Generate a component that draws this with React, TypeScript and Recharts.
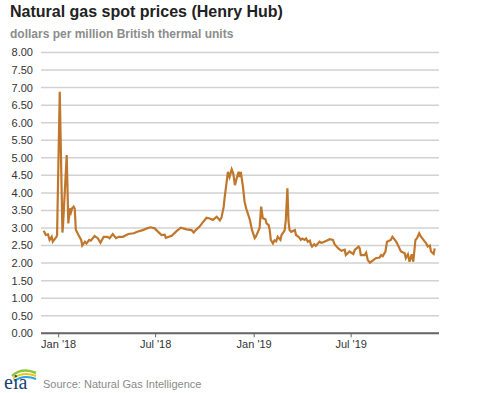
import { LineChart, Line, XAxis, YAxis, CartesianGrid } from 'recharts';

// Henry Hub daily spot price
const dates = [
  '2017-12-04', '2017-12-08', '2017-12-12', '2017-12-15', '2017-12-19', '2017-12-21', '2017-12-26', '2017-12-28',
  '2017-12-29', '2018-01-03', '2018-01-08', '2018-01-09', '2018-01-16', '2018-01-19', '2018-01-22', '2018-01-24',
  '2018-01-26', '2018-01-29', '2018-01-31', '2018-02-02', '2018-02-07', '2018-02-12', '2018-02-14', '2018-02-19',
  '2018-02-22', '2018-02-27', '2018-03-02', '2018-03-09', '2018-03-15', '2018-03-20', '2018-03-26', '2018-04-02',
  '2018-04-06', '2018-04-12', '2018-04-18', '2018-04-23', '2018-05-01', '2018-05-11', '2018-05-21', '2018-05-29',
  '2018-06-07', '2018-06-15', '2018-06-22', '2018-06-29', '2018-07-12', '2018-07-18', '2018-07-20', '2018-07-31',
  '2018-08-09', '2018-08-17', '2018-08-28', '2018-09-06', '2018-09-10', '2018-09-14', '2018-09-21', '2018-09-28',
  '2018-10-04', '2018-10-10', '2018-10-16', '2018-10-23', '2018-10-29', '2018-11-01', '2018-11-05', '2018-11-07',
  '2018-11-13', '2018-11-16', '2018-11-20', '2018-11-23', '2018-11-26', '2018-11-29', '2018-12-03', '2018-12-05',
  '2018-12-07', '2018-12-11', '2018-12-14', '2018-12-17', '2018-12-24', '2018-12-28', '2019-01-02', '2019-01-04',
  '2019-01-08', '2019-01-11', '2019-01-14', '2019-01-17', '2019-01-22', '2019-01-24', '2019-01-28', '2019-01-30',
  '2019-02-01', '2019-02-05', '2019-02-08', '2019-02-11', '2019-02-14', '2019-02-19', '2019-02-21', '2019-02-25',
  '2019-02-27', '2019-03-01', '2019-03-04', '2019-03-06', '2019-03-08', '2019-03-11', '2019-03-18', '2019-03-20',
  '2019-03-22', '2019-03-26', '2019-03-29', '2019-04-01', '2019-04-05', '2019-04-08', '2019-04-11', '2019-04-15',
  '2019-04-17', '2019-04-19', '2019-04-23', '2019-04-26', '2019-04-30', '2019-05-03', '2019-05-06', '2019-05-09',
  '2019-05-16', '2019-05-22', '2019-05-28', '2019-05-31', '2019-06-07', '2019-06-13', '2019-06-19', '2019-06-21',
  '2019-06-28', '2019-07-05', '2019-07-08', '2019-07-15', '2019-07-17', '2019-07-19', '2019-07-26', '2019-07-29',
  '2019-08-01', '2019-08-05', '2019-08-12', '2019-08-16', '2019-08-23', '2019-08-26', '2019-08-29', '2019-09-03',
  '2019-09-06', '2019-09-13', '2019-09-16', '2019-09-23', '2019-09-26', '2019-10-02', '2019-10-09', '2019-10-11',
  '2019-10-15', '2019-10-18', '2019-10-22', '2019-10-25', '2019-10-29', '2019-11-01', '2019-11-05', '2019-11-08',
  '2019-11-13', '2019-11-18', '2019-11-21', '2019-11-25', '2019-11-27', '2019-12-02', '2019-12-04',
];

const prices = [
  2.92, 2.80, 2.82, 2.66, 2.75, 2.61, 2.71, 2.75,
  2.80, 6.88, 2.87, 3.04, 5.08, 3.13, 3.56, 3.45,
  3.56, 3.61, 3.55, 2.95, 2.80, 2.66, 2.50, 2.61,
  2.56, 2.66, 2.64, 2.77, 2.71, 2.58, 2.75, 2.75,
  2.71, 2.83, 2.71, 2.75, 2.75, 2.83, 2.85, 2.90,
  2.94, 2.99, 3.02, 2.99, 2.80, 2.81, 2.72, 2.78,
  2.91, 3.01, 2.96, 2.94, 2.87, 2.94, 3.04, 3.18,
  3.29, 3.27, 3.23, 3.32, 3.22, 3.30, 3.60, 3.89,
  4.60, 4.45, 4.67, 4.55, 4.22, 4.40, 4.60, 4.45,
  4.60, 4.18, 3.75, 3.56, 3.23, 2.94, 2.71, 2.75,
  2.89, 3.00, 3.61, 3.28, 3.25, 3.13, 3.08, 2.94,
  2.66, 2.56, 2.65, 2.62, 2.75, 2.66, 2.80, 2.89,
  2.94, 3.23, 4.13, 3.20, 2.94, 2.89, 2.94, 2.80,
  2.78, 2.73, 2.66, 2.70, 2.66, 2.70, 2.61, 2.64,
  2.52, 2.47, 2.54, 2.49, 2.56, 2.61, 2.58, 2.59,
  2.64, 2.68, 2.66, 2.54, 2.42, 2.35, 2.38, 2.23,
  2.33, 2.26, 2.38, 2.47, 2.42, 2.23, 2.23, 2.30,
  2.09, 2.01, 2.09, 2.14, 2.16, 2.23, 2.20, 2.33,
  2.61, 2.66, 2.75, 2.61, 2.52, 2.33, 2.28, 2.14,
  2.25, 2.04, 2.25, 2.04, 2.66, 2.71, 2.85, 2.76,
  2.66, 2.56, 2.47, 2.50, 2.33, 2.26, 2.42,
];

const xTickDates = ['2018-01-01', '2018-07-01', '2019-01-01', '2019-07-01'];
const xTickLabels = ["Jan '18", "Jul '18", "Jan '19", "Jul '19"];
const yTicks = [0, 0.5, 1, 1.5, 2, 2.5, 3, 3.5, 4, 4.5, 5, 5.5, 6, 6.5, 7, 7.5, 8];

const data = dates.map((d, i) => ({ t: Date.parse(d), price: prices[i] }));
const xTicks = xTickDates.map(d => Date.parse(d));
const xDomain = [Date.parse('2017-11-29'), Date.parse('2019-12-12')];

const FONT = '"Liberation Sans", Arial, sans-serif';

const fmtX = (v: number) => {
  const i = xTicks.indexOf(v);
  return i >= 0 ? xTickLabels[i] : '';
};

function EiaLogo() {
  return (
    <svg width={40} height={28} style={{ position: 'absolute', left: 2, top: 364 }}>
      <path d="M10 12 Q20 3 34 9" stroke="#8cc63f" strokeWidth={2.5} fill="none" />
      <path d="M11 14.5 Q21 7 34 12" stroke="#f2c511" strokeWidth={2} fill="none" />
      <path d="M12 17 Q22 10 34 15" stroke="#2aa5dd" strokeWidth={2} fill="none" />
      <text x={2} y={25} fontFamily='"Liberation Serif", "DejaVu Serif", serif' fontSize={20} fill="#1c3f72">
        eia
      </text>
    </svg>
  );
}

export default function App() {
  return (
    <div style={{ position: 'absolute', left: 0, top: 0, width: 477, height: 393, background: '#fff', fontFamily: FONT, overflow: 'hidden' }}>
      <div style={{ position: 'absolute', left: 10, top: 3, fontSize: 16, fontWeight: 'bold', color: '#222' }}>
        Natural gas spot prices (Henry Hub)
      </div>
      <div style={{ position: 'absolute', left: 10, top: 27, fontSize: 12, fontWeight: 'bold', color: '#8c8c8c' }}>
        dollars per million British thermal units
      </div>

      <div style={{ position: 'absolute', left: 0, top: 0 }}>
        <LineChart width={477} height={393} data={data} margin={{ top: 52.5, right: 38, left: 0, bottom: 0 }}>
          <CartesianGrid vertical={false} stroke="#d2d2d2" strokeWidth={1.5} />
          <XAxis
            dataKey="t"
            type="number"
            scale="time"
            domain={xDomain}
            ticks={xTicks}
            tickFormatter={fmtX}
            axisLine={{ stroke: '#666', strokeWidth: 2 }}
            tickLine={{ stroke: '#666' }}
            tickSize={4}
            tickMargin={3}
            tick={{ fill: '#333', fontSize: 11, fontFamily: FONT }}
            height={59.7}
            allowDataOverflow
          />
          <YAxis
            domain={[0, 8]}
            ticks={yTicks}
            tickFormatter={(v: number) => v.toFixed(2)}
            axisLine={false}
            tickLine={false}
            tickSize={0}
            tickMargin={8}
            width={41}
            interval={0}
            tick={{ fill: '#333', fontSize: 11, fontFamily: FONT }}
          />
          <Line
            type="linear"
            dataKey="price"
            stroke="#c0772c"
            strokeWidth={2.2}
            dot={false}
            activeDot={false}
            isAnimationActive={false}
          />
        </LineChart>
      </div>

      <EiaLogo />
      <div style={{ position: 'absolute', left: 43, top: 378, fontSize: 11, color: '#8a8a8a' }}>
        Source: Natural Gas Intelligence
      </div>
    </div>
  );
}
